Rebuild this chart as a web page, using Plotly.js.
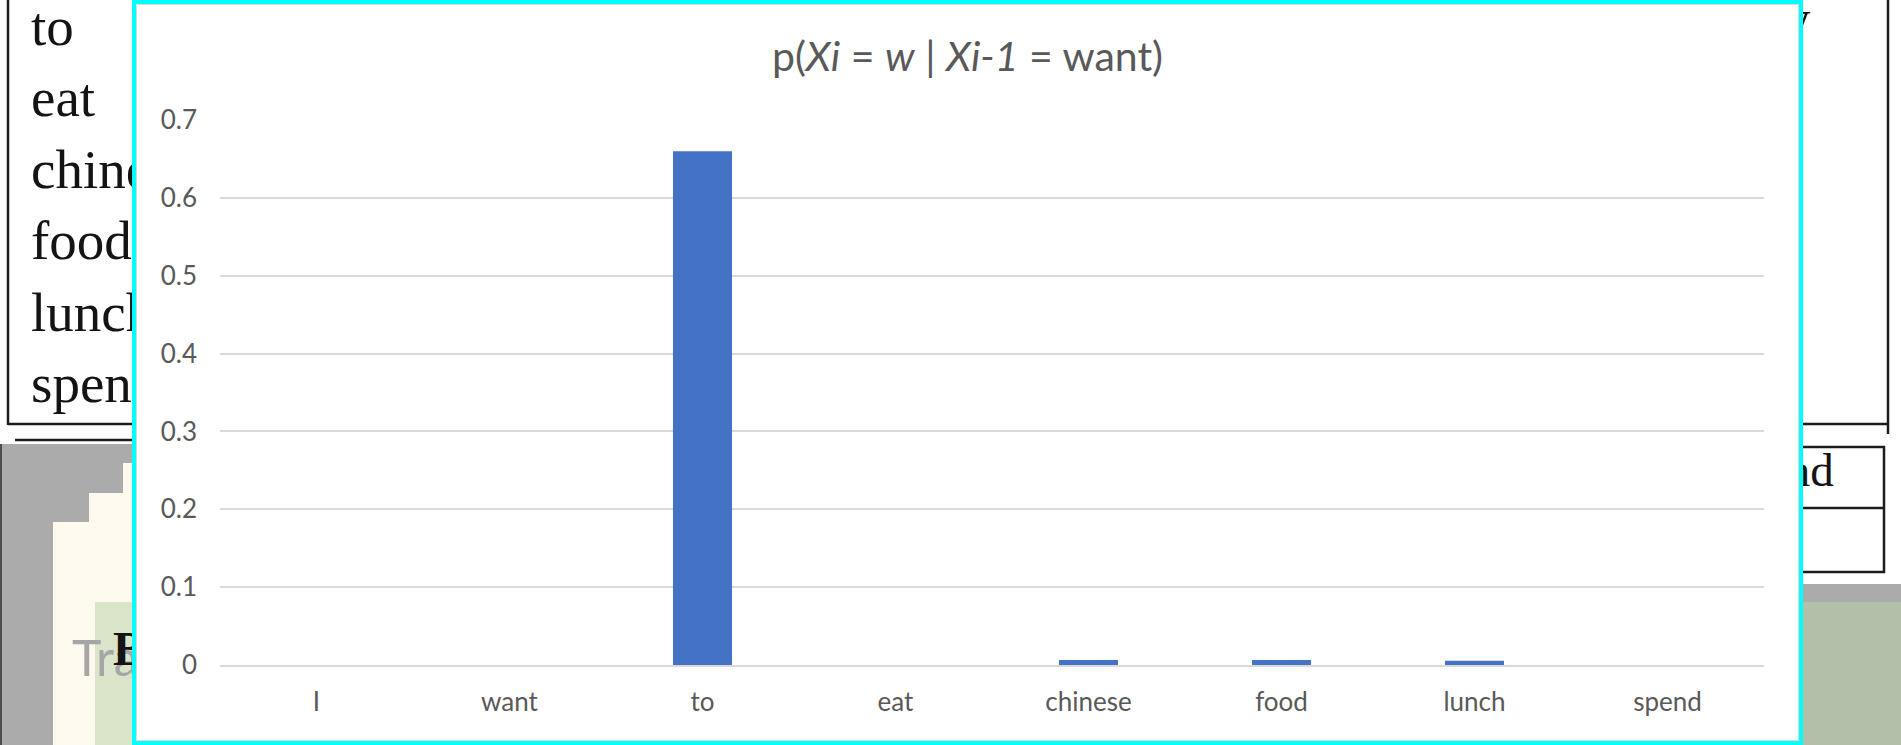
<!DOCTYPE html>
<html>
<head>
<meta charset="utf-8">
<script src="https://cdn.plot.ly/plotly-3.0.1.min.js"></script>
<style>
html,body{margin:0;padding:0;width:1901px;height:745px;overflow:hidden;background:#ffffff;}
#bg{position:absolute;left:0;top:0;width:1901px;height:745px;}
#chart{position:absolute;left:132px;top:0;width:1671px;height:745px;box-sizing:border-box;border:4px solid #00ffff;background:#ffffff;}
#plot{width:1663px;height:737px;}
</style>
</head>
<body>
<div id="bg"></div>
<div id="chart"><div id="plot"></div></div>
<script>
// ---- chart data ----
const categories = ['I', 'want', 'to', 'eat', 'chinese', 'food', 'lunch', 'spend'];
const probabilities = [0, 0, 0.66, 0, 0.0065, 0.0065, 0.0054, 0];
const yTickValues = [0, 0.1, 0.2, 0.3, 0.4, 0.5, 0.6, 0.7];
const yTickLabels = ['0', '0.1', '0.2', '0.3', '0.4', '0.5', '0.6', '0.7'];
const chartTitle = 'p(<i>Xi</i> = <i>w</i> | <i>Xi-1</i> = want)';

// ---- background (slides behind the chart) texts ----
const tableWords = ['to', 'eat', 'chinese', 'food', 'lunch', 'spend'];
const rightCellWord = 'spend';
const slideHeading = 'Training';
const slideBoldLetter = 'B';
const topRightLetter = 'y';

// ================= background figure (pixel coordinates) =================
const serif = 'Liberation Serif, Times New Roman, serif';
const W = 1901, H = 745;
function rect(x0, y0, x1, y1, fill, line, lw) {
  return {type: 'rect', xref: 'x', yref: 'y', x0: x0, y0: y0, x1: x1, y1: y1,
          fillcolor: fill, line: {color: line || fill, width: lw === undefined ? 0 : lw}};
}
function seg(x0, y0, x1, y1, color, w) {
  return {type: 'line', xref: 'x', yref: 'y', x0: x0, y0: y0, x1: x1, y1: y1,
          line: {color: color, width: w}};
}
const ink = '#1c1c1c';
const bgShapes = [
  // left lower window (gray) with cream cards and green panel
  rect(0, 444, 1000, H, '#ababab'),
  rect(0, 444, 2, H, '#4d4d4d'),
  rect(123, 463, 1000, H, '#fdf9ee'),
  rect(89, 493, 1000, H, '#fdf9ee'),
  rect(53, 522, 1000, H, '#fdf9ee'),
  rect(95, 602, 1000, H, '#d9e4c9'),
  // right lower window
  rect(1000, 584, W, 602, '#ababab'),
  rect(1000, 602, W, H, '#b2c0a9'),
  // upper table borders
  seg(8, 0, 8, 425, ink, 2.5),
  seg(8, 424, 1888, 424, ink, 2.5),
  seg(1888, 0, 1888, 434, ink, 2.5),
  // lower-left table top line
  seg(15, 440, 1000, 440, ink, 2.5),
  // right small table
  rect(1000, 447, 1884, 572, '#ffffff', ink, 2.5),
  seg(1000, 508, 1884, 508, ink, 2.5)
];
function baselineAnno(text, x, baseline, size, opts) {
  const o = opts || {};
  return {
    text: text, xref: 'x', yref: 'y', x: x, y: baseline + size * 0.216 + 1,
    xanchor: o.xanchor || 'left', yanchor: 'bottom', showarrow: false,
    font: {family: o.family || serif, size: size, color: o.color || '#141414'}
  };
}
const wordBaselines = [46, 117, 189, 260, 332, 403];
const bgAnnos = tableWords.map((w, i) => baselineAnno(w, 29, wordBaselines[i], 55));
bgAnnos.push(baselineAnno(rightCellWord, 1836, 487, 47, {xanchor: 'right'}));
bgAnnos.push(baselineAnno(slideHeading, 70, 677, 50, {family: 'Lato, sans-serif', color: '#a6a6a6'}));
bgAnnos.push(baselineAnno('<b>' + slideBoldLetter + '</b>', 111, 666, 48));
bgAnnos.push(baselineAnno(topRightLetter, 1813, 38, 55, {xanchor: 'right'}));

Plotly.newPlot('bg', [], {
  width: W, height: H,
  margin: {l: 0, r: 0, t: 0, b: 0, pad: 0},
  paper_bgcolor: '#ffffff', plot_bgcolor: '#ffffff',
  xaxis: {range: [0, W], visible: false, fixedrange: true},
  yaxis: {range: [H, 0], visible: false, fixedrange: true},
  shapes: bgShapes,
  annotations: bgAnnos,
  showlegend: false
}, {staticPlot: true, displayModeBar: false});

// ================= the bar chart =================
const PW = 1663, PH = 737;
const M = {l: 84, r: 35, t: 116, b: 76};
const pw = PW - M.l - M.r, ph = PH - M.t - M.b;
const axisFont = {family: 'Lato, Carlito, Calibri, sans-serif', size: 26, color: '#595959'};

Plotly.newPlot('plot', [{
  type: 'bar',
  x: categories,
  y: probabilities,
  marker: {color: '#4472c4', line: {width: 0}},
  hoverinfo: 'x+y'
}], {
  width: PW, height: PH,
  margin: {l: M.l, r: M.r, t: M.t, b: M.b, pad: 0},
  paper_bgcolor: '#ffffff', plot_bgcolor: '#ffffff',
  bargap: 0.694,
  title: {
    text: chartTitle,
    font: {family: 'Lato, Carlito, Calibri, sans-serif', size: 41, color: '#595959'},
    x: 0.5, xref: 'container', xanchor: 'center',
    y: 1 - 53 / PH, yref: 'container', yanchor: 'middle'
  },
  xaxis: {
    type: 'category',
    tickfont: axisFont,
    ticks: '',
    showgrid: false,
    zeroline: false,
    showline: true, linecolor: '#d9d9d9', linewidth: 2, layer: 'above traces',
    ticklabelstandoff: 13,
    fixedrange: true
  },
  yaxis: {
    range: [0, 0.7],
    tickvals: yTickValues,
    ticktext: yTickLabels,
    tickfont: axisFont,
    ticks: '',
    showgrid: true, gridcolor: '#d9d9d9', gridwidth: 2,
    zeroline: false, showline: false,
    ticklabelstandoff: 22,
    fixedrange: true
  },
  shapes: [{
    type: 'rect', xref: 'paper', yref: 'paper',
    x0: (0.5 - M.l) / pw, x1: (PW - 0.5 - M.l) / pw,
    y0: -(M.b - 0.5) / ph, y1: 1 + (M.t - 0.5) / ph,
    line: {color: '#d9d9d9', width: 1}, fillcolor: 'rgba(0,0,0,0)'
  }],
  showlegend: false
}, {displayModeBar: false});
</script>
</body>
</html>
